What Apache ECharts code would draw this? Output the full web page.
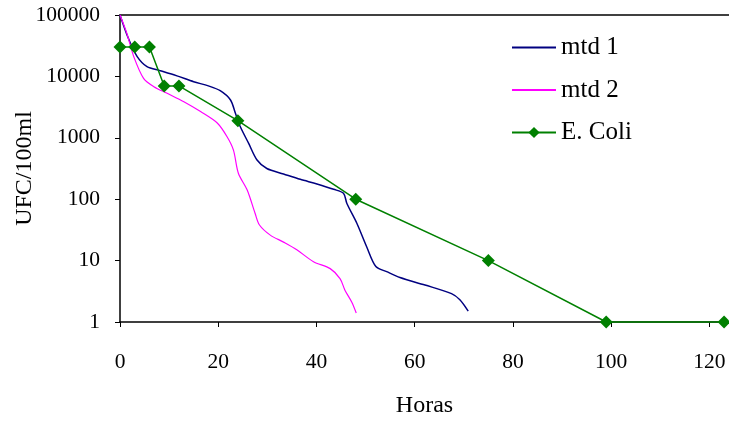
<!DOCTYPE html>
<html><head><meta charset="utf-8">
<script src="https://cdn.jsdelivr.net/npm/echarts@6/dist/echarts.min.js"></script>
<style>html,body{margin:0;padding:0;background:#fff}#c{width:729px;height:421px}</style>
</head><body><div id="c"></div>
<script>
const xTicks = [0, 20, 40, 60, 80, 100, 120];
const yTicks = [1, 10, 100, 1000, 10000, 100000];

const mtd1X = [0,1.7,3.5,5.5,8.2,11.6,15,18,20.4,22.5,23.5,24.5,26.2,27.9,29.9,33.3,36.7,40.1,43.5,45.5,46.2,48.2,50.2,52.1,54.3,57,62.1,67.5,69.2,70.9];
const mtd1Y = [100000,41700,21000,14400,12400,10200,8200,7000,5850,4130,2500,1510,810,435,316,258,211,177,145,125,85,41,17,8,6.6,5.3,4,2.9,2.3,1.5];

const mtd2X = [0,1.4,2.8,4.8,6.9,9.6,13,16.4,19.8,21.8,23.1,24.1,25.9,27.5,28.4,30.6,33.3,36,39.4,42.8,44.8,45.8,47.2,48.1];
const mtd2Y = [100000,50000,21000,9300,6800,5300,3860,2670,1740,1040,630,265,141,59,38,26,20,15,9.6,7.4,5.1,3.3,2.1,1.4];

const ecoliX = [0,3,6,9,12,24,48,75,99,123];
const ecoliY = [30000,30000,30000,7000,7000,1900,100,10,1,1];

const pairs = (xs, ys) => xs.map((x, i) => [x, ys[i]]);
const font = 'Liberation Serif';

const chart = echarts.init(document.getElementById('c'));
chart.setOption({
  animation: false,
  textStyle: { fontFamily: font },
  grid: { left: 120, right: 0, top: 15, bottom: 99, containLabel: false, outerBoundsMode: 'none' },
  legend: {
    orient: 'vertical', left: 506, top: 30, itemWidth: 44, itemHeight: 14, itemGap: 17.5,
    textStyle: { fontFamily: font, fontSize: 25, color: '#000' },
    data: [
      { name: 'mtd 1', itemStyle: { opacity: 0 } },
      { name: 'mtd 2', itemStyle: { opacity: 0 } },
      { name: 'E. Coli' }
    ]
  },
  xAxis: [{
    type: 'value', min: 0, max: 124, interval: 20,
    name: 'Horas', nameLocation: 'middle', nameGap: 72, nameMoveOverlap: false,
    nameTextStyle: { fontFamily: font, fontSize: 24, color: '#000' },
    axisLine: { lineStyle: { color: '#000', width: 1.5 } },
    axisTick: { show: true, length: 5, lineStyle: { color: '#000' }, customValues: xTicks },
    axisLabel: { fontFamily: font, fontSize: 21.5, color: '#000', margin: 29, customValues: xTicks },
    splitLine: { show: false }
  }, {
    type: 'value', position: 'top', min: 0, max: 124,
    axisLine: { show: true, lineStyle: { color: '#404040', width: 2 } },
    axisTick: { show: false }, axisLabel: { show: false }, splitLine: { show: false }
  }],
  yAxis: {
    type: 'log', logBase: 10, min: 1, max: 100000,
    name: 'UFC/100ml', nameLocation: 'middle', nameGap: 83, nameRotate: 90, nameMoveOverlap: false,
    nameTextStyle: { fontFamily: font, fontSize: 24, color: '#000' },
    axisLine: { show: true, lineStyle: { color: '#000', width: 1.5 } },
    axisTick: { show: true, length: 5, lineStyle: { color: '#000' } },
    axisLabel: { fontFamily: font, fontSize: 21.5, color: '#000', margin: 20,
      formatter: v => String(Math.round(v)) },
    splitLine: { show: false }
  },
  series: [{
    name: 'mtd 1', type: 'line', symbol: 'none', smooth: 0.3, data: pairs(mtd1X, mtd1Y),
    lineStyle: { color: '#000080', width: 1.5 }, itemStyle: { color: '#000080' }
  }, {
    name: 'mtd 2', type: 'line', symbol: 'none', smooth: 0.3, data: pairs(mtd2X, mtd2Y),
    lineStyle: { color: '#FF00FF', width: 1.2 }, itemStyle: { color: '#FF00FF' }
  }, {
    name: 'E. Coli', type: 'line', symbol: 'diamond', symbolSize: 13, clip: false,
    data: pairs(ecoliX, ecoliY),
    lineStyle: { color: '#008000', width: 1.5 }, itemStyle: { color: '#008000' }
  }]
});
</script>
</body></html>
